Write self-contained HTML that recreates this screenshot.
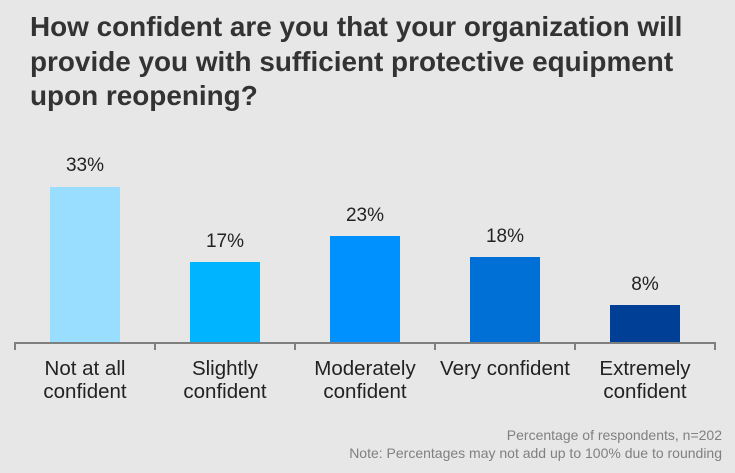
<!DOCTYPE html><html><head><style>
body{margin:0;width:735px;height:473px;background:#e7e7e7;font-family:"Liberation Sans",sans-serif;overflow:hidden;position:relative}
.t{position:absolute;left:30px;top:10px;font-size:27.9px;font-weight:bold;color:#333;line-height:34.5px;white-space:nowrap}
.b{position:absolute;width:70px}
.v{position:absolute;width:140px;text-align:center;font-size:19px;color:#222}
.l{position:absolute;top:357px;width:140px;text-align:center;font-size:20.5px;color:#222;line-height:23px}
.f{position:absolute;right:13px;top:426px;text-align:right;font-size:14px;color:#808080;line-height:18px}
</style></head><body>
<div class="t">How confident are you that your organization will<br>provide you with sufficient protective equipment<br>upon reopening?</div>
<div class="b" style="left:50px;top:187px;height:156px;background:#99ddff"></div>
<div class="b" style="left:190px;top:262px;height:81px;background:#00b4ff"></div>
<div class="b" style="left:330px;top:236px;height:107px;background:#0091ff"></div>
<div class="b" style="left:470px;top:257px;height:86px;background:#006fd6"></div>
<div class="b" style="left:610px;top:305px;height:38px;background:#003f96"></div>
<div class="v" style="left:15px;top:155px">33%</div>
<div class="v" style="left:155px;top:231px">17%</div>
<div class="v" style="left:295px;top:205px">23%</div>
<div class="v" style="left:435px;top:226px">18%</div>
<div class="v" style="left:575px;top:274px">8%</div>
<svg style="position:absolute;left:0;top:0" width="735" height="473"><g stroke="#7f7f7f" stroke-width="2" fill="none">
<line x1="14" y1="343" x2="716" y2="343"/>
<line x1="15" y1="342" x2="15" y2="350"/><line x1="155" y1="342" x2="155" y2="350"/><line x1="295" y1="342" x2="295" y2="350"/><line x1="435" y1="342" x2="435" y2="350"/><line x1="575" y1="342" x2="575" y2="350"/><line x1="715" y1="342" x2="715" y2="350"/></g></svg>
<div class="l" style="left:15px">Not at all<br>confident</div>
<div class="l" style="left:155px">Slightly<br>confident</div>
<div class="l" style="left:295px">Moderately<br>confident</div>
<div class="l" style="left:435px">Very confident</div>
<div class="l" style="left:575px">Extremely<br>confident</div>
<div class="f">Percentage of respondents, n=202<br>Note: Percentages may not add up to 100% due to rounding</div>
</body></html>
